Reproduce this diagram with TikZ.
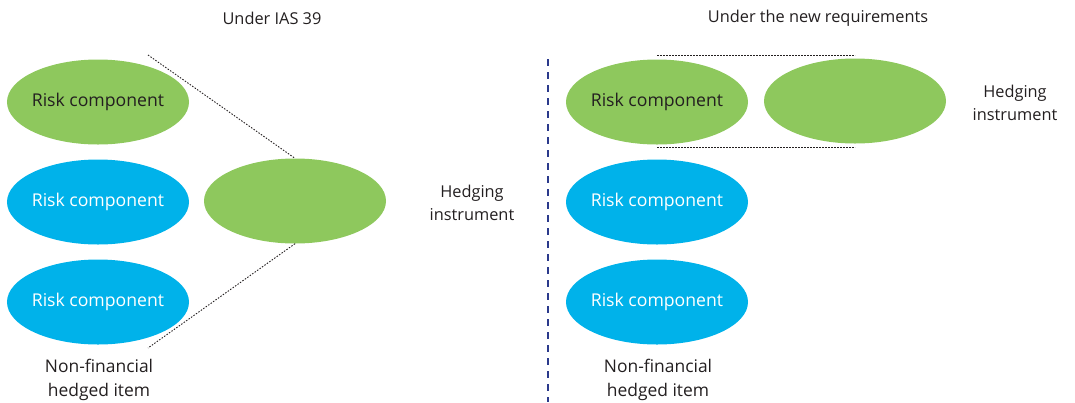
\documentclass[tikz,border=0pt]{standalone}
\usepackage{fontspec}
\setmainfont{Open Sans}
\usetikzlibrary{shapes.geometric}
\definecolor{rgreen}{HTML}{8EC85D}
\definecolor{rblue}{HTML}{00B2EA}
\definecolor{rtext}{HTML}{231F20}
\definecolor{rnavy}{HTML}{2B3A8C}
\tikzset{
  ell/.style={ellipse, minimum width=182bp, minimum height=85bp, inner sep=-12bp, font=\fontsize{17.7}{20}\selectfont},
  greenell/.style={ell, fill=rgreen, text=rtext},
  blueell/.style={ell, fill=rblue, text=white},
  lbl/.style={align=center, text=rtext, font=\fontsize{16.4}{23.5}\selectfont},
  biglbl/.style={align=center, text=rtext, font=\fontsize{17.5}{23.5}\selectfont},
  dots/.style={draw=rtext, line width=0.9bp, dash pattern=on 1.5bp off 1.5bp},
  divider/.style={draw=rnavy, line width=2bp, dash pattern=on 7bp off 6bp}
}
\begin{document}
\begin{tikzpicture}[x=1bp, y=-1bp]
\useasboundingbox (0,0) rectangle (1075,402);
% left side
\node[lbl] (t1) at (272,18) {Under IAS 39};
\node[greenell] (l1) at (98,102) {Risk component};
\node[blueell] (l2) at (98,202) {Risk component};
\node[blueell] (l3) at (98,302) {Risk component};
\node[greenell] (h1) at (295,201) {};
\node[lbl] (hl1) at (472,203) {Hedging\\instrument};
\node[biglbl] (n1) at (99,380) {Non-financial\\hedged item};
\coordinate (c1) at (148,55);
\coordinate (c2) at (148,348);
\draw[dots] (c1) -- (h1.north);
\draw[dots] (h1.south) -- (c2);
% divider
\coordinate (d1) at (548,59);
\coordinate (d2) at (548,402);
\draw[divider] (d1) -- (d2);
% right side
\node[lbl] (t2) at (818,18) {Under the new requirements};
\node[greenell] (r1) at (657,102) {Risk component};
\node[greenell] (h2) at (855,101) {};
\node[blueell] (r2) at (657,202) {Risk component};
\node[blueell] (r3) at (657,302) {Risk component};
\node[lbl] (hl2) at (1015,103) {Hedging\\instrument};
\node[biglbl] (n2) at (658,380) {Non-financial\\hedged item};
\coordinate (e1) at (657,55);
\coordinate (e2) at (855,55);
\coordinate (e3) at (657,147);
\coordinate (e4) at (855,147);
\draw[dots] (e1) -- (e2);
\draw[dots] (e3) -- (e4);
\end{tikzpicture}
\end{document}
